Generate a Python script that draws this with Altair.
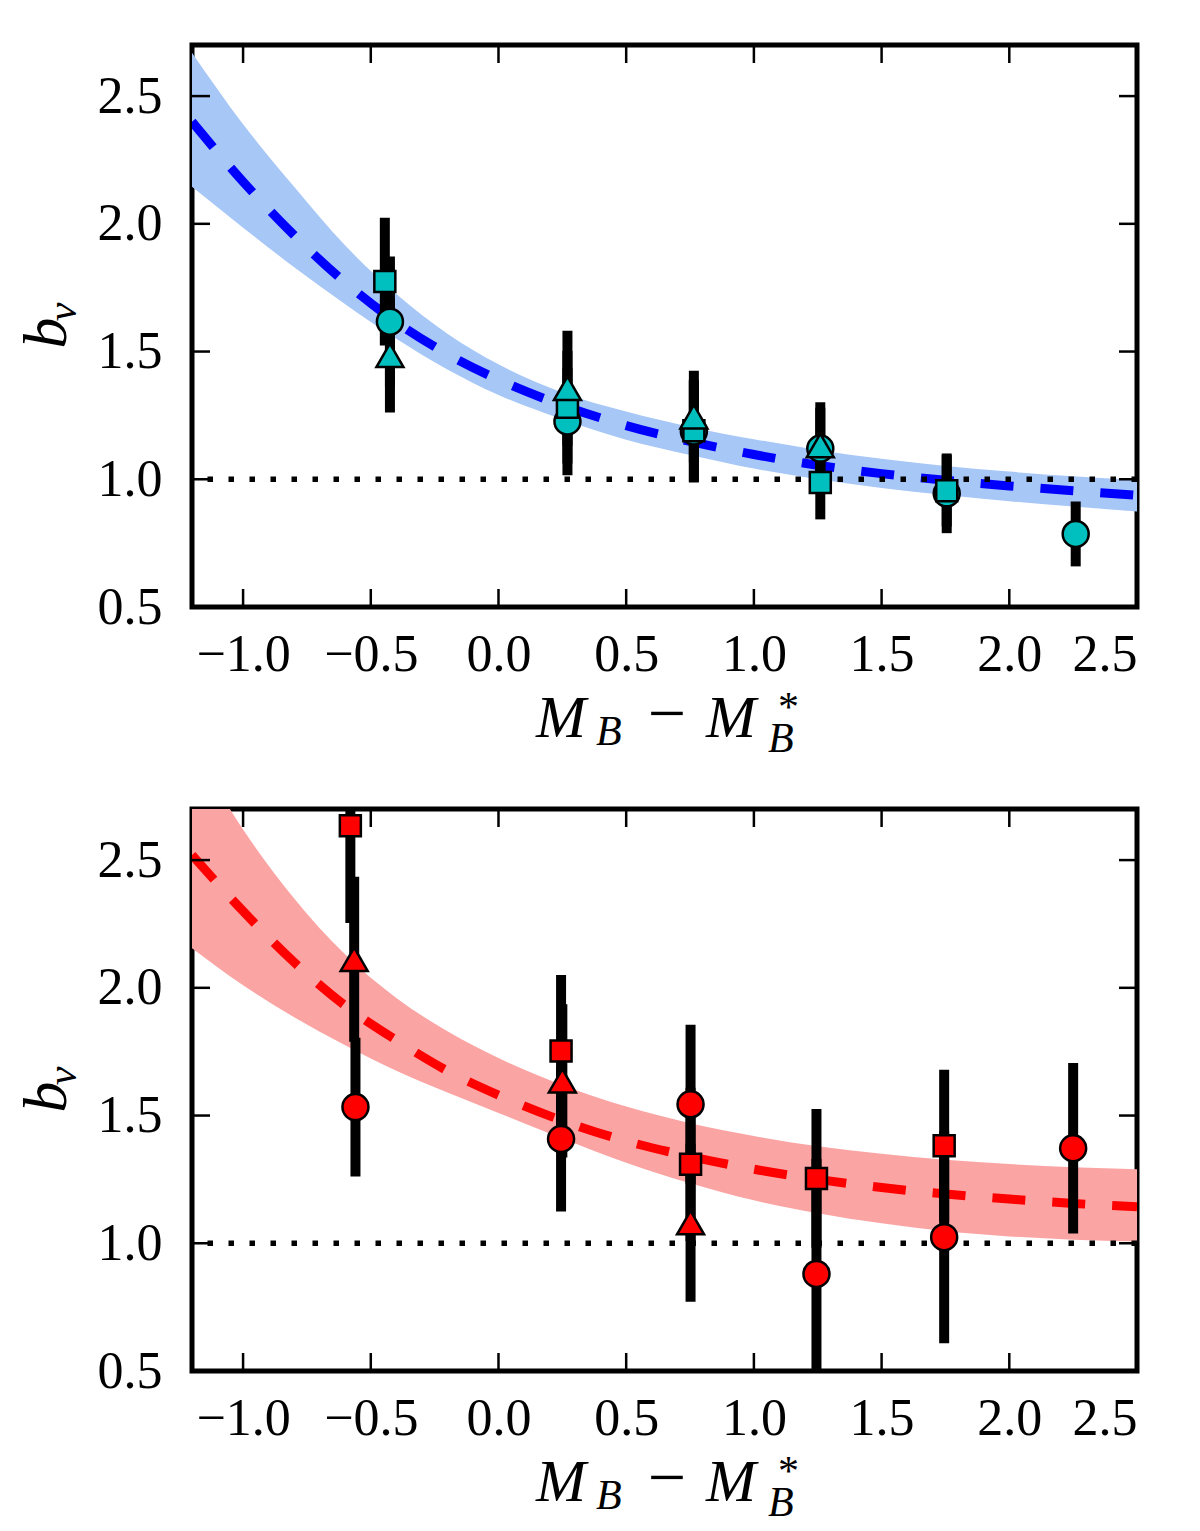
import altair as alt
import pandas as pd

FIT_X = [-1.2, -1.0, -0.8, -0.6, -0.4, -0.2, 0.0, 0.25, 0.5, 0.75, 1.0, 1.25, 1.5, 1.75, 2.0, 2.25, 2.5]

# top panel: fit (dashed blue) and its band
TOP_FIT = [2.40, 2.165, 1.955, 1.77, 1.615, 1.49, 1.39, 1.29, 1.21, 1.148, 1.097, 1.055, 1.022, 0.996, 0.974, 0.955, 0.937]
TOP_HI = [2.67, 2.39, 2.145, 1.915, 1.725, 1.57, 1.45, 1.34, 1.265, 1.205, 1.157, 1.115, 1.08, 1.052, 1.03, 1.012, 0.998]
TOP_LO = [2.145, 1.985, 1.83, 1.685, 1.55, 1.43, 1.33, 1.235, 1.155, 1.095, 1.042, 1.0, 0.966, 0.938, 0.914, 0.893, 0.874]

# bottom panel: fit (dashed red) and its band
BOT_FIT = [2.52, 2.30, 2.10, 1.93, 1.795, 1.675, 1.58, 1.48, 1.40, 1.34, 1.29, 1.25, 1.218, 1.193, 1.173, 1.156, 1.143]
BOT_HI = [2.95, 2.62, 2.35, 2.13, 1.96, 1.83, 1.725, 1.62, 1.535, 1.47, 1.42, 1.38, 1.35, 1.327, 1.31, 1.298, 1.29]
BOT_LO = [2.155, 2.01, 1.885, 1.775, 1.675, 1.59, 1.51, 1.41, 1.315, 1.235, 1.168, 1.118, 1.078, 1.047, 1.027, 1.014, 1.007]

# top panel measurements
TOP_CIRCLE_X = [-0.425, 0.27, 0.765, 1.26, 1.755, 2.26]
TOP_CIRCLE_Y = [1.617, 1.226, 1.187, 1.12, 0.945, 0.786]
TOP_CIRCLE_ERR = [0.255, 0.21, 0.2, 0.16, 0.156, 0.127]
TOP_SQUARE_X = [-0.445, 0.27, 0.765, 1.26, 1.755]
TOP_SQUARE_Y = [1.774, 1.282, 1.19, 0.987, 0.955]
TOP_SQUARE_ERR = [0.25, 0.22, 0.2, 0.144, 0.14]
TOP_TRI_X = [-0.425, 0.27, 0.765, 1.26]
TOP_TRI_Y = [1.485, 1.356, 1.245, 1.132]
TOP_TRI_ERR = [0.224, 0.225, 0.18, 0.17]

# bottom panel measurements
BOT_CIRCLE_X = [-0.56, 0.245, 0.752, 1.245, 1.745, 2.25]
BOT_CIRCLE_Y = [1.533, 1.408, 1.544, 0.88, 1.024, 1.372]
BOT_CIRCLE_ERR = [0.272, 0.284, 0.311, 0.45, 0.415, 0.334]
BOT_SQUARE_X = [-0.58, 0.245, 0.752, 1.245, 1.745]
BOT_SQUARE_Y = [2.634, 1.753, 1.309, 1.254, 1.382]
BOT_SQUARE_ERR = [0.38, 0.297, 0.3, 0.272, 0.297]
BOT_TRI_X = [-0.565, 0.25, 0.752]
BOT_TRI_Y = [2.112, 1.636, 1.081]
BOT_TRI_ERR = [0.323, 0.3, 0.31]

UNITY = [1.0]
X_TICKS = [-1.0, -0.5, 0.0, 0.5, 1.0, 1.5, 2.0, 2.5]
Y_TICKS = [0.5, 1.0, 1.5, 2.0, 2.5]

W, H = 945, 562
TICK = 18
FONT = "Liberation Serif"

XS = alt.Scale(domain=[-1.2, 2.5], nice=False, zero=False)
YS = alt.Scale(domain=[0.5, 2.7], nice=False, zero=False)

x_axis = alt.Axis(values=X_TICKS, format=".1f", title="", ticks=False, domain=False, grid=False,
                  labelFont=FONT, labelFontSize=52, labelColor="black", labelPadding=22,
                  labelOverlap=False)
y_axis = alt.Axis(values=Y_TICKS, format=".1f", title="", ticks=False, domain=False, grid=False,
                  labelFont=FONT, labelFontSize=52, labelColor="black", labelPadding=30,
                  labelOverlap=False)


def xenc(field):
    return alt.X(f"{field}:Q", scale=XS, axis=x_axis)


def yenc(field):
    return alt.Y(f"{field}:Q", scale=YS, axis=y_axis)


def series(xs, ys, errs):
    df = pd.DataFrame({"x": xs, "y": ys, "err": errs})
    df["lo"] = df["y"] - df["err"]
    df["hi"] = df["y"] + df["err"]
    return df


def word(text, x, y, size, style="italic", angle=0, align="left"):
    return alt.Chart(pd.DataFrame({"t": [text]})).mark_text(
        font=FONT, fontSize=size, fontStyle=style, angle=angle, align=align,
        baseline="alphabetic", color="black"
    ).encode(text="t:N", x=alt.value(x), y=alt.value(y))


def panel(fit, hi, lo, band_color, line_color, marker_color, circles, squares, triangles):
    curve = pd.DataFrame({"x": FIT_X, "fit": fit, "hi": hi, "lo": lo})
    allpts = pd.concat([circles, squares, triangles], ignore_index=True)

    band = alt.Chart(curve).mark_area(color=band_color, opacity=1, interpolate="monotone", clip=True).encode(
        x=xenc("x"), y=yenc("lo"), y2="hi:Q")
    line = alt.Chart(curve).mark_line(color=line_color, strokeWidth=9, strokeDash=[33, 27],
                                      interpolate="monotone", clip=True).encode(x=xenc("x"), y=yenc("fit"))
    unity = alt.Chart(pd.DataFrame({"y": UNITY})).mark_rule(
        color="black", strokeWidth=5.5, strokeDash=[5.5, 15.5]).encode(y=yenc("y"))
    bars = alt.Chart(allpts).mark_rule(color="black", strokeWidth=10, clip=True).encode(
        x=xenc("x"), y=yenc("lo"), y2="hi:Q")

    def pts(df, shape, size):
        return alt.Chart(df).mark_point(shape=shape, size=size, filled=True, fill=marker_color,
                                        stroke="black", strokeWidth=2.5, opacity=1, clip=True).encode(
            x=xenc("x"), y=yenc("y"))

    xt = pd.DataFrame({"x": X_TICKS})
    yt = pd.DataFrame({"y": Y_TICKS})
    tick = dict(color="black", strokeWidth=2.5)
    ticks = [
        alt.Chart(xt).mark_rule(**tick).encode(x=xenc("x"), y=alt.value(H), y2=alt.value(H - TICK)),
        alt.Chart(xt).mark_rule(**tick).encode(x=xenc("x"), y=alt.value(0), y2=alt.value(TICK)),
        alt.Chart(yt).mark_rule(**tick).encode(y=yenc("y"), x=alt.value(0), x2=alt.value(TICK)),
        alt.Chart(yt).mark_rule(**tick).encode(y=yenc("y"), x=alt.value(W), x2=alt.value(W - TICK)),
    ]

    # axis titles: M_B - M_B^*  and  b_v
    titles = [
        word("M", 344, 692, 60),
        word("B", 404, 700, 42),
        word("\u2212", 475, 691, 68, style="normal", align="center"),
        word("M", 514, 692, 60),
        word("*", 586, 676, 42, style="normal"),
        word("B", 576, 707, 42),
        word("b", -126, 288, 62, angle=270, align="center"),
        word("v", -116, 267, 42, angle=270, align="center"),
    ]

    layers = [band, line, unity, bars,
              pts(circles, "circle", 676), pts(squares, "square", 441), pts(triangles, "triangle-up", 729)]
    return alt.layer(*layers, *ticks, *titles).properties(width=W, height=H)


top = panel(TOP_FIT, TOP_HI, TOP_LO, "#A7C7F7", "#0000FF", "#00BFBF",
            series(TOP_CIRCLE_X, TOP_CIRCLE_Y, TOP_CIRCLE_ERR),
            series(TOP_SQUARE_X, TOP_SQUARE_Y, TOP_SQUARE_ERR),
            series(TOP_TRI_X, TOP_TRI_Y, TOP_TRI_ERR))

bottom = panel(BOT_FIT, BOT_HI, BOT_LO, "#FBA4A4", "#FF0000", "#FF0000",
               series(BOT_CIRCLE_X, BOT_CIRCLE_Y, BOT_CIRCLE_ERR),
               series(BOT_SQUARE_X, BOT_SQUARE_Y, BOT_SQUARE_ERR),
               series(BOT_TRI_X, BOT_TRI_Y, BOT_TRI_ERR))

chart = alt.vconcat(top, bottom, spacing=202, bounds="flush").properties(
    padding={"left": 5, "top": 33, "right": 5, "bottom": 5},
    background="white",
).configure_view(stroke="black", strokeWidth=5)

chart.save("out.html", embed_options={"renderer": "svg", "actions": False})
